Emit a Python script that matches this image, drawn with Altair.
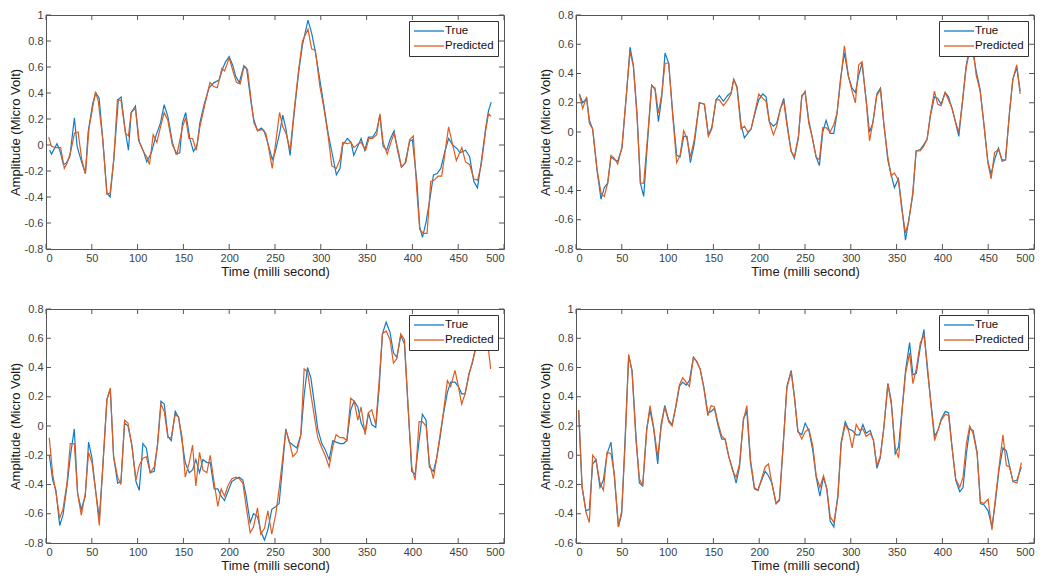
import altair as alt
import pandas as pd

# ---------------- data ----------------
series_names = ["True", "Predicted"]
series_colors = ["#127CC4", "#DD5C22"]
time_ticks = [0, 50, 100, 150, 200, 250, 300, 350, 400, 450, 500]

p1_y_ticks = [-0.8, -0.6, -0.4, -0.2, 0, 0.2, 0.4, 0.6, 0.8, 1.0]
p2_y_ticks = [-0.8, -0.6, -0.4, -0.2, 0, 0.2, 0.4, 0.6, 0.8]
p3_y_ticks = [-0.8, -0.6, -0.4, -0.2, 0, 0.2, 0.4, 0.6, 0.8]
p4_y_ticks = [-0.6, -0.4, -0.2, 0, 0.2, 0.4, 0.6, 0.8, 1.0]

# panel 1 (top-left): (time, amplitude)
p1_true = [(4,-0.04),(6,-0.07),(12,0.01),(15,-0.04),(19,-0.15),(22,-0.14),(26,-0.09),(31,0.21),(34,-0.01),
    (38,-0.11),(43,-0.22),(46,0.10),(51,0.32),(54.5,0.40),(58,0.36),(62,0.04),(66.5,-0.37),(70,-0.40),(74,-0.11),
    (79,0.35),(82,0.37),(86.7,0.10),(90,-0.04),(93,0.25),(97.6,0.30),(101,0.04),(107,-0.06),(110,-0.13),(115,-0.06),
    (120,0.07),(125,0.17),(129,0.31),(133,0.22),(138,0.02),(142,-0.07),(146,-0.06),(149,0.17),(152.5,0.25),(157,0.05),
    (161,-0.05),(165,0.0),(168,0.17),(172.6,0.31),(178,0.44),(183.5,0.48),(189,0.50),(193,0.59),(196,0.64),(200,0.68),
    (204,0.61),(207,0.53),(211,0.48),(216,0.61),(219,0.59),(224,0.32),(227,0.19),(231,0.11),(235,0.13),(238,0.11),
    (242,0.02),(247,-0.11),(250,-0.06),(255,0.09),(258.5,0.23),(262,0.12),(266.5,-0.08),(271,0.25),(276,0.57),(280,0.77),
    (286,0.96),(290,0.86),(294,0.72),(299,0.50),(303,0.32),(308,0.09),(312,-0.05),(317,-0.23),(321,-0.18),(324,0.0),
    (329,0.05),(333,0.02),(336,-0.08),(341,0.0),(344,0.05),(348,-0.04),(352,0.06),(356.5,0.06),(361,0.11),(364.5,0.23),
    (368,-0.01),(372,-0.04),(375.5,0.04),(380,0.11),(384,-0.05),(388,-0.17),(392,-0.14),(397,0.03),(400,0.04),(405,-0.29),
    (408,-0.63),(411,-0.71),(415,-0.59),(419,-0.42),(423,-0.23),(427,-0.22),(431,-0.18),(435,-0.06),(439.5,0.05),(444,0.0),
    (449,-0.03),(452,-0.06),(458,-0.04),(462.5,-0.09),(467,-0.28),(471,-0.33),(475,-0.14),(480,0.13),(483,0.26),(486,0.33)]
p1_pred = [(3,0.06),(6,-0.01),(10,-0.02),(13.5,-0.02),(16,-0.02),(20,-0.18),(23,-0.14),(27,-0.05),(31,0.09),(35,0.10),
    (39,-0.11),(43,-0.22),(47,0.13),(54,0.41),(57,0.34),(62,0.04),(66.5,-0.38),(70,-0.37),(74,-0.11),(78,0.35),(82,0.34),
    (86.7,0.09),(90,0.07),(93,0.25),(97.6,0.28),(102,0.02),(107,-0.06),(110,-0.09),(113,-0.15),(117,0.08),(121,0.02),
    (125,0.14),(129,0.25),(133,0.19),(138,0.0),(143,-0.07),(149,0.14),(152.5,0.21),(156,0.05),(160,0.05),(164,-0.04),
    (168,0.14),(173,0.30),(179,0.48),(183,0.45),(187,0.44),(192,0.59),(195,0.57),(200,0.67),(204,0.57),(208,0.48),
    (212,0.47),(216,0.60),(220,0.58),(224,0.34),(227,0.17),(231,0.11),(236,0.12),(240,0.09),(243,-0.02),(247,-0.18),
    (251,0.03),(255,0.25),(258.5,0.14),(262,0.09),(266.5,-0.04),(271,0.27),(276,0.59),(280,0.80),(286,0.89),(290,0.74),
    (294,0.73),(299,0.45),(303,0.30),(308,0.07),(312,-0.16),(317,-0.18),(321,-0.11),(324,0.02),(329,0.01),(333,0.02),
    (336,-0.02),(341,0.01),(344,0.02),(349,-0.04),(352.5,0.05),(356.5,0.05),(361,0.08),(364.5,0.24),(368,0.02),
    (372.5,-0.07),(376.5,0.02),(380,0.09),(385,-0.06),(388,-0.17),(393,-0.13),(397,0.04),(401,0.07),(405,-0.37),
    (408,-0.65),(412,-0.68),(416,-0.68),(420,-0.28),(424,-0.27),(428,-0.24),(432,-0.24),(436,-0.04),(439.5,0.14),
    (443,0.03),(448,-0.12),(454,-0.02),(458,-0.13),(462.5,-0.15),(467,-0.26),(471,-0.27),(475,-0.16),(480,0.11),
    (483,0.24),(486,0.22)]

# panel 2 (top-right): (time, true, predicted)
p2_rows = [(3.6,0.26,0.26),(7.3,0.20,0.16),(11.6,0.23,0.24),(14.6,0.08,0.06),(18.2,0.02,0.02),(22.9,-0.26,-0.25),
    (27.3,-0.46,-0.42),(30.9,-0.38,-0.44),(34.6,-0.35,-0.35),(38.2,-0.17,-0.16),(41.9,-0.19,-0.18),(45.5,-0.20,-0.22),
    (50.2,-0.11,-0.10),(54.6,0.22,0.23),(59,0.58,0.55),(62.6,0.46,0.45),(66.6,0.13,0.11),(70.3,-0.35,-0.35),
    (73.9,-0.44,-0.35),(78.3,-0.05,-0.02),(82.6,0.32,0.32),(86.3,0.29,0.30),(90,0.07,0.13),(93.6,0.24,0.26),
    (97.2,0.54,0.47),(101.2,0.47,0.47),(105.6,0.13,0.11),(109.9,-0.16,-0.21),(113.6,-0.17,-0.16),(117.6,-0.03,0.01),
    (121.2,-0.03,-0.05),(124.9,-0.21,-0.17),(129.2,-0.08,-0.05),(134.7,0.20,0.20),(140.2,0.19,0.19),(144.5,-0.02,-0.03),
    (148.2,0.03,0.02),(152.9,0.22,0.22),(156.5,0.25,0.22),(160.9,0.21,0.18),(165.6,0.25,0.22),(169.3,0.27,0.26),
    (172.2,0.36,0.36),(175.8,0.31,0.30),(180.2,0.05,0.02),(183.8,-0.04,0.04),(187.5,-0.01,0.0),(191.1,0.02,0.02),
    (195.8,0.14,0.15),(199.5,0.22,0.26),(203.9,0.26,0.23),(207.5,0.24,0.21),(211.1,0.07,0.07),(215.5,0.04,-0.02),
    (219.1,0.06,0.04),(223.2,0.16,0.16),(226.8,0.23,0.21),(230.4,0.06,0.04),(234.8,-0.13,-0.13),(238.4,-0.18,-0.17),
    (242.8,-0.04,-0.03),(246.5,0.25,0.24),(250.1,0.27,0.28),(254.1,0.08,0.06),(257.7,-0.03,-0.03),(262.1,-0.17,-0.17),
    (265.7,-0.23,-0.19),(269.4,0.0,0.03),(273,0.08,0.03),(277.4,-0.01,0.0),(281.4,-0.01,0.05),(285,0.13,0.13),
    (288.7,0.36,0.34),(293,0.54,0.59),(297.4,0.38,0.38),(301.4,0.30,0.28),(305,0.27,0.20),(308.7,0.39,0.46),
    (312.3,0.47,0.48),(316.7,0.22,0.22),(320.4,0.0,-0.06),(324,0.06,0.06),(328.4,0.26,0.25),(332.4,0.30,0.29),
    (336,0.06,0.06),(340.4,-0.19,-0.17),(344,-0.29,-0.30),(347.6,-0.38,-0.28),(352,-0.32,-0.33),(355.7,-0.51,-0.53),
    (359.7,-0.74,-0.69),(363.3,-0.60,-0.61),(367.7,-0.43,-0.41),(371.3,-0.13,-0.13),(375.7,-0.12,-0.13),
    (379.3,-0.09,-0.10),(383.3,-0.05,-0.05),(386.9,0.11,0.12),(391.3,0.24,0.28),(394.9,0.23,0.19),(398.6,0.19,0.18),
    (403,0.27,0.27),(406.6,0.24,0.22),(410.6,0.16,0.16),(414.2,0.07,0.07),(417.9,-0.03,0.0),(421.5,0.18,0.19),
    (425.9,0.45,0.44),(429.6,0.57,0.55),(433.2,0.55,0.59),(436.8,0.42,0.39),(441.2,0.29,0.28),(445.2,0.06,0.06),
    (449.6,-0.20,-0.21),(453.2,-0.29,-0.32),(456.9,-0.19,-0.14),(461.2,-0.11,-0.12),(465.2,-0.20,-0.19),
    (468.9,-0.19,-0.19),(473.2,0.13,0.13),(476.9,0.36,0.36),(481.2,0.44,0.46),(484.9,0.28,0.26)]

# panel 3 (bottom-left): (time, true, predicted)
p3_rows = [(3.6,-0.20,-0.08),(7.3,-0.37,-0.33),(10.9,-0.44,-0.46),(14.9,-0.68,-0.63),(18.5,-0.61,-0.57),
    (22.9,-0.41,-0.39),(26.5,-0.21,-0.12),(30.9,-0.02,-0.12),(34.5,-0.46,-0.46),(38.5,-0.57,-0.61),(42.9,-0.48,-0.46),
    (46.5,-0.11,-0.18),(50.2,-0.22,-0.25),(54.5,-0.46,-0.46),(58.2,-0.63,-0.68),(61.8,-0.30,-0.30),(66.5,0.18,0.18),
    (70.2,0.25,0.26),(73.8,-0.21,-0.21),(78.2,-0.39,-0.35),(81.8,-0.38,-0.40),(85.8,0.02,0.04),(89.5,0.0,0.02),
    (93.8,-0.13,-0.14),(98.2,-0.38,-0.37),(101.8,-0.44,-0.27),(105.8,-0.12,-0.22),(109.5,-0.15,-0.21),
    (113.8,-0.32,-0.32),(118.2,-0.31,-0.28),(121.8,-0.12,-0.13),(125.5,0.17,0.15),(129.1,0.15,0.10),(133.1,-0.07,-0.08),
    (136.7,-0.10,-0.08),(141.1,0.10,0.08),(144.7,0.06,0.06),(148.4,-0.10,-0.07),(152,-0.25,-0.35),(156.4,-0.32,-0.25),
    (160,-0.30,-0.13),(163.6,-0.23,-0.41),(167.6,-0.32,-0.18),(171.3,-0.23,-0.30),(175.6,-0.25,-0.32),
    (179.3,-0.25,-0.20),(183.6,-0.43,-0.39),(187.6,-0.43,-0.55),(191.3,-0.48,-0.43),(194.9,-0.51,-0.48),
    (198.5,-0.45,-0.41),(202.9,-0.38,-0.36),(207.3,-0.36,-0.35),(210.9,-0.35,-0.36),(214.9,-0.37,-0.39),
    (218.5,-0.48,-0.55),(222.9,-0.66,-0.73),(226.5,-0.60,-0.69),(230.9,-0.62,-0.56),(234.5,-0.72,-0.74),
    (238.5,-0.78,-0.70),(242.2,-0.71,-0.58),(246.5,-0.57,-0.74),(250.9,-0.55,-0.60),(254.5,-0.53,-0.43),
    (258.2,-0.28,-0.23),(261.8,-0.02,-0.03),(265.5,-0.11,-0.10),(269.5,-0.13,-0.21),(273.8,-0.15,-0.18),
    (278.2,-0.06,-0.06),(281.8,0.21,0.39),(285.5,0.40,0.37),(289.1,0.33,0.22),(293.1,0.15,0.06),(296.7,-0.02,-0.08),
    (301.1,-0.12,-0.15),(304.7,-0.16,-0.20),(309.1,-0.23,-0.28),(313.1,-0.10,-0.14),(316.7,-0.11,-0.06),
    (321.1,-0.12,-0.08),(324.7,-0.12,-0.08),(328.4,-0.10,-0.10),(332.7,0.11,0.19),(336.4,0.17,0.17),(340.4,0.13,0.04),
    (344,0.02,0.13),(348.4,-0.04,-0.06),(352,0.09,0.09),(355.6,0.01,0.11),(360,-0.01,0.01),(363.6,0.25,0.30),
    (367.3,0.63,0.63),(371.3,0.71,0.65),(375.6,0.64,0.59),(379.3,0.50,0.43),(383,0.47,0.46),(387.3,0.62,0.63),
    (391.3,0.56,0.59),(395.1,0.15,0.15),(399.3,-0.31,-0.28),(403,-0.33,-0.37),(407.3,-0.10,0.03),(410.9,0.08,0.03),
    (414.9,0.04,0.0),(418.5,-0.28,-0.25),(422.9,-0.31,-0.36),(426.5,-0.22,-0.22),(430.2,-0.08,-0.06),(433.8,0.08,0.09),
    (438.2,0.23,0.31),(441.8,0.30,0.27),(446.5,0.30,0.38),(450.2,0.27,0.27),(453.8,0.22,0.15),(457.5,0.22,0.22),
    (461.8,0.36,0.35),(465.5,0.43,0.44),(469.1,0.54,0.53),(473,0.60,0.58),(477,0.65,0.62),(481,0.62,0.63)]
p3_pred_tail = [(485.5, 0.39)]

# panel 4 (bottom-right): (time, true, predicted)
p4_rows = [(2.9,0.31,0.31),(6.6,-0.22,-0.21),(10.9,-0.38,-0.39),(14.6,-0.37,-0.46),(18.2,-0.06,0.0),(21.8,-0.03,-0.03),
    (26.2,-0.22,-0.19),(29.9,-0.17,-0.24),(33.9,0.01,0.02),(38.2,0.09,0.01),(41.9,-0.15,-0.13),(46.3,-0.49,-0.49),
    (49.9,-0.40,-0.38),(53.5,0.10,0.06),(57.5,0.68,0.69),(61.2,0.58,0.57),(65.5,0.13,0.10),(69.2,-0.19,-0.16),
    (72.8,-0.21,-0.21),(77.2,0.18,0.17),(80.8,0.31,0.34),(84.8,0.18,0.19),(89.2,-0.06,-0.01),(92.9,0.21,0.19),
    (96.9,0.34,0.33),(101.2,0.24,0.23),(104.9,0.21,0.20),(109.3,0.34,0.35),(112.9,0.47,0.48),(116.5,0.50,0.53),
    (120.2,0.48,0.50),(123.8,0.51,0.47),(128.2,0.67,0.67),(131.8,0.64,0.64),(135.5,0.59,0.59),(139.5,0.47,0.46),
    (143.9,0.29,0.27),(147.5,0.30,0.34),(151.1,0.32,0.33),(155.5,0.19,0.21),(159.1,0.11,0.13),(162.8,0.11,0.11),
    (166.8,-0.01,-0.01),(171.2,-0.10,-0.11),(174.8,-0.19,-0.15),(178.5,-0.08,-0.06),(182.8,0.25,0.24),(186.5,0.30,0.34),
    (190.5,-0.05,-0.03),(194.8,-0.23,-0.22),(198.5,-0.24,-0.24),(202.1,-0.18,-0.17),(206.5,-0.11,-0.08),
    (210.1,-0.14,-0.06),(213.8,-0.19,-0.19),(218.5,-0.33,-0.33),(222.1,-0.31,-0.30),(226.5,0.10,0.10),(230.2,0.47,0.46),
    (234.9,0.58,0.57),(238.5,0.40,0.39),(242.2,0.16,0.17),(246.5,0.14,0.11),(250.2,0.22,0.16),(254.2,0.17,0.18),
    (258.6,0.03,0.06),(262.2,-0.15,-0.14),(266.2,-0.28,-0.22),(270.2,-0.15,-0.14),(273.8,-0.23,-0.23),
    (277.5,-0.45,-0.42),(281.5,-0.49,-0.46),(285.9,-0.27,-0.29),(289.5,0.09,0.08),(293.9,0.23,0.21),(297.5,0.18,0.17),
    (301.5,0.17,0.05),(305.9,0.14,0.21),(309.5,0.14,0.17),(313.2,0.21,0.18),(316.8,0.15,0.13),(321.2,0.17,0.15),
    (324.8,0.10,0.10),(328.5,-0.09,-0.07),(332.1,-0.02,-0.01),(336.1,0.19,0.19),(340.5,0.49,0.49),(344.2,0.37,0.35),
    (348.5,0.01,0.05),(352.2,0.06,-0.02),(356.2,0.33,0.32),(359.8,0.58,0.56),(364.2,0.77,0.70),(367.8,0.55,0.49),
    (371.5,0.56,0.59),(375.9,0.74,0.77),(379.9,0.86,0.82),(383.5,0.59,0.62),(387.1,0.38,0.37),(391.5,0.13,0.10),
    (395.1,0.17,0.17),(398.8,0.25,0.24),(403.2,0.30,0.28),(406.8,0.29,0.27),(410.5,0.06,0.05),(414.5,-0.17,-0.16),
    (418.9,-0.25,-0.22),(422.5,-0.22,-0.15),(426.2,0.01,0.08),(429.8,0.18,0.20),(433.5,0.17,0.15),(437.9,0.02,0.01),
    (441.5,-0.33,-0.32),(445.5,-0.34,-0.33),(449.9,-0.38,-0.30),(454.1,-0.49,-0.51),(457.8,-0.32,-0.30),
    (461.8,-0.10,-0.08),(466.1,0.05,0.14),(469.8,0.03,-0.07),(473.4,-0.08,-0.08),(477.1,-0.18,-0.18),
    (481.4,-0.17,-0.19),(486.2,-0.08,-0.05)]

# ---------------- chart ----------------
W, H = 458, 234
TICK = 5
FONT = "Liberation Sans"
BOX = "#555555"


def long_from_pairs(true_pairs, pred_pairs):
    rows = [{"t": t, "amp": v, "series": "True"} for t, v in true_pairs]
    rows += [{"t": t, "amp": v, "series": "Predicted"} for t, v in pred_pairs]
    return pd.DataFrame(rows)


def long_from_rows(rows, pred_tail=()):
    true_pairs = [(t, a) for t, a, b in rows]
    pred_pairs = [(t, b) for t, a, b in rows] + list(pred_tail)
    return long_from_pairs(true_pairs, pred_pairs)


def panel(df, y_ticks):
    ydom = [y_ticks[0], y_ticks[-1]]
    xs = alt.Scale(domain=[0, 500], nice=False, zero=False)
    ys = alt.Scale(domain=ydom, nice=False, zero=False)
    color = alt.Color(
        "series:N",
        scale=alt.Scale(domain=series_names, range=series_colors),
        legend=alt.Legend(
            title=None, orient="top-right", offset=6, padding=4,
            strokeColor="#333333", fillColor="white",
            symbolType="M-1,0L5,0", symbolSize=100, symbolStrokeWidth=1.3,
            labelFont=FONT, labelFontSize=11.5, labelColor="#111111",
            labelOffset=20, rowPadding=3, symbolOffset=0,
        ),
    )
    xax = alt.Axis(values=time_ticks, title="Time (milli second)", format="d")
    yax = alt.Axis(values=y_ticks, title="Amplitude (Micro Volt)",
                   labelExpr="datum.value < 0 ? '-' + format(-datum.value, '~g') : format(datum.value, '~g')")
    X = alt.X("t:Q", scale=xs, axis=xax)
    Y = alt.Y("amp:Q", scale=ys, axis=yax)
    lines = []
    for name in series_names:
        lines.append(
            alt.Chart(df).transform_filter(alt.datum.series == name).mark_line(strokeWidth=1.2).encode(
                x=X, y=Y, color=color,
            )
        )
    xt = pd.DataFrame({"t": time_ticks})
    yt = pd.DataFrame({"amp": y_ticks})
    tick_x_bottom = alt.Chart(xt).mark_rule(color=BOX, strokeWidth=1).encode(
        x=X, y=alt.value(H), y2=alt.value(H - TICK))
    tick_x_top = alt.Chart(xt).mark_rule(color=BOX, strokeWidth=1).encode(
        x=X, y=alt.value(0), y2=alt.value(TICK))
    tick_y_left = alt.Chart(yt).mark_rule(color=BOX, strokeWidth=1).encode(
        y=Y, x=alt.value(0), x2=alt.value(TICK))
    tick_y_right = alt.Chart(yt).mark_rule(color=BOX, strokeWidth=1).encode(
        y=Y, x=alt.value(W), x2=alt.value(W - TICK))
    return alt.layer(*lines, tick_x_bottom, tick_x_top, tick_y_left, tick_y_right).properties(width=W, height=H)


c1 = panel(long_from_pairs(p1_true, p1_pred), p1_y_ticks)
c2 = panel(long_from_rows(p2_rows), p2_y_ticks)
c3 = panel(long_from_rows(p3_rows, p3_pred_tail), p3_y_ticks)
c4 = panel(long_from_rows(p4_rows), p4_y_ticks)

top = alt.hconcat(c1, c2, spacing=33).resolve_scale(color="independent").resolve_legend(color="independent")
bottom = alt.hconcat(c3, c4, spacing=33).resolve_scale(color="independent").resolve_legend(color="independent")

chart = (
    alt.vconcat(top, bottom, spacing=23)
    .resolve_scale(color="independent")
    .resolve_legend(color="independent")
    .properties(padding=0, background="white")
    .configure_view(stroke=BOX, strokeWidth=1)
    .configure_axis(
        grid=False, domain=False, ticks=False,
        labelFont=FONT, labelFontSize=11, labelColor="#404040", labelPadding=3,
        titleFont=FONT, titleFontSize=13, titleFontWeight="normal", titleColor="#1a1a1a", titlePadding=2,
    )
)

chart.save("out.html", embed_options={"renderer": "svg", "actions": False})
